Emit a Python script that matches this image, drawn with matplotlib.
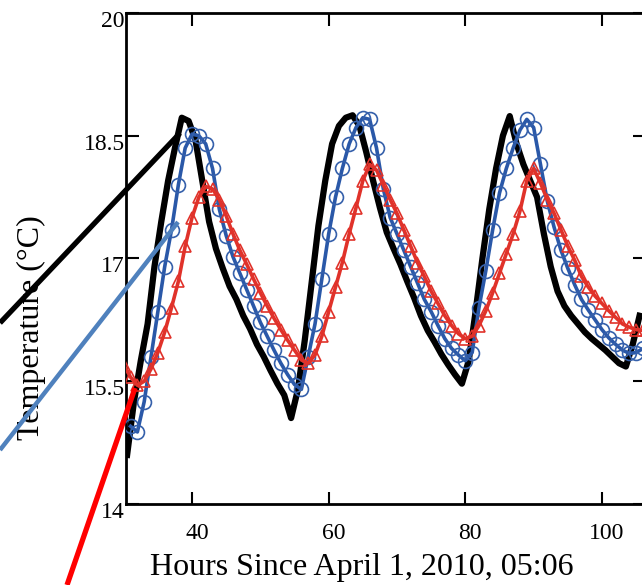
import numpy as np
import matplotlib
matplotlib.use("Agg")
import matplotlib.pyplot as plt
from matplotlib.lines import Line2D
import matplotlib.transforms as mtransforms

plt.rcParams['font.family'] = ['Liberation Serif', 'DejaVu Serif']

# measured (black), hourly samples starting at 30.5 h
measured_start = 30.5
measured = [14.6, 15.25, 15.75, 16.2, 16.9, 17.45, 17.95, 18.35, 18.72, 18.68,
            18.45, 17.95, 17.45, 17.12, 16.88, 16.66, 16.5, 16.3, 16.14, 15.95,
            15.8, 15.63, 15.47, 15.33, 15.05, 15.4, 16.0, 16.7, 17.4, 17.95,
            18.4, 18.62, 18.72, 18.75, 18.62, 18.3, 17.95, 17.62, 17.32, 17.12,
            16.93, 16.72, 16.52, 16.3, 16.12, 15.98, 15.83, 15.7, 15.58, 15.47,
            15.75, 16.35, 17.0, 17.6, 18.1, 18.5, 18.74, 18.4, 18.15, 17.95,
            17.75, 17.3, 16.9, 16.6, 16.42, 16.3, 16.2, 16.1, 16.02, 15.95,
            15.88, 15.8, 15.72, 15.68, 15.95, 16.3]

# model with circles (blue), hourly from 31 h
model_a_start = 31
model_a = [14.95, 14.88, 15.25, 15.8, 16.35, 16.9, 17.35, 17.9, 18.35, 18.52,
           18.5, 18.4, 18.1, 17.6, 17.28, 17.02, 16.82, 16.62, 16.42, 16.22,
           16.05, 15.88, 15.72, 15.58, 15.46, 15.4, 15.8, 16.2, 16.75, 17.3,
           17.75, 18.1, 18.4, 18.6, 18.72, 18.7, 18.35, 17.85, 17.5, 17.3,
           17.1, 16.9, 16.7, 16.5, 16.35, 16.18, 16.02, 15.9, 15.82, 15.75,
           15.85, 16.4, 16.85, 17.35, 17.8, 18.1, 18.35, 18.57, 18.7, 18.6,
           18.15, 17.7, 17.38, 17.1, 16.88, 16.68, 16.5, 16.37, 16.25, 16.13,
           16.03, 15.95, 15.88, 15.84, 15.85, 15.9]

# model with triangles (red), hourly from 30 h
model_b_start = 30
model_b = [15.7, 15.55, 15.45, 15.5, 15.65, 15.85, 16.1, 16.4, 16.72, 17.15,
           17.5, 17.75, 17.88, 17.85, 17.72, 17.52, 17.3, 17.1, 16.93, 16.75,
           16.58, 16.42, 16.27, 16.13, 16.0, 15.88, 15.76, 15.72, 15.82, 16.05,
           16.35, 16.65, 16.95, 17.3, 17.62, 17.95, 18.15, 18.08, 17.9, 17.72,
           17.55, 17.35, 17.15, 16.95, 16.78, 16.6, 16.45, 16.3, 16.18, 16.08,
           16.02, 16.05, 16.18, 16.36, 16.58, 16.82, 17.06, 17.3, 17.58, 17.95,
           18.1, 17.92, 17.72, 17.55, 17.35, 17.15, 16.98, 16.78, 16.65, 16.54,
           16.45, 16.36, 16.28, 16.2, 16.16, 16.13, 16.12]

x_ticks = [40, 60, 80, 100]
y_ticks = [14, 15.5, 17, 18.5, 20]
y_tick_labels = ['14', '15.5', '17', '18.5', '20']

t_meas = measured_start + np.arange(len(measured))
t_a = model_a_start + np.arange(len(model_a))
t_b = model_b_start + np.arange(len(model_b))

fig = plt.figure(figsize=(6.42, 5.85), dpi=100)
ax = fig.add_axes([0.1963, 0.1385, 0.8084, 0.8393])

ax.plot(t_meas, measured, color='black', lw=4.5, solid_joinstyle='round', zorder=2)
ax.plot(t_a, model_a, color='#2a58a8', lw=2.6, marker='o', ms=10,
        mfc='none', mec='#3560ab', mew=1.2, zorder=3)
ax.plot(t_b, model_b, color='#e0322a', lw=2.6, marker='^', ms=8.5,
        mfc='none', mec='#e0322a', mew=1.2, zorder=4)

ax.set_xlim(30.34, 106.3)
ax.set_ylim(14, 20)
ax.set_xticks(x_ticks)
ax.set_yticks(y_ticks)
ax.set_yticklabels(y_tick_labels)

for s in ax.spines.values():
    s.set_linewidth(2)
ax.tick_params(direction='in', length=9, width=1.5, top=True, right=True,
               labelsize=17, pad=1)
ax.tick_params(axis='x', pad=14)

# tick labels sit slightly off their ticks in the original
for lab in ax.get_yticklabels():
    lab.set_transform(lab.get_transform() +
                      mtransforms.ScaledTranslation(0, -6 / 100, fig.dpi_scale_trans))
for lab in ax.get_xticklabels():
    lab.set_transform(lab.get_transform() +
                      mtransforms.ScaledTranslation(5 / 100, 0, fig.dpi_scale_trans))

ax.set_xlabel('Hours Since April 1, 2010, 05:06', fontsize=23)
ax.set_ylabel('Temperature (°C)', fontsize=23)
ax.xaxis.set_label_coords(362 / 642, 1 - 553 / 585, transform=fig.transFigure)
ax.yaxis.set_label_coords(46 / 642, 1 - 328 / 585, transform=fig.transFigure)

# pointer lines coming in from the left of the figure
pointers = [((0.0, 0.2804), (0.448, 0.7726), 'black', 3.8),
            ((0.0, 0.2773), (0.2308, 0.6205), '#4f81bd', 3.2),
            ((0.1044, 0.2103), (0.0, 0.3368), '#ff0000', 3.8)]
for xs, ys, c, w in pointers:
    fig.add_artist(Line2D(xs, ys, color=c, lw=w, transform=fig.transFigure,
                          zorder=10, solid_capstyle='butt'))

fig.savefig('out.png', dpi=100)
